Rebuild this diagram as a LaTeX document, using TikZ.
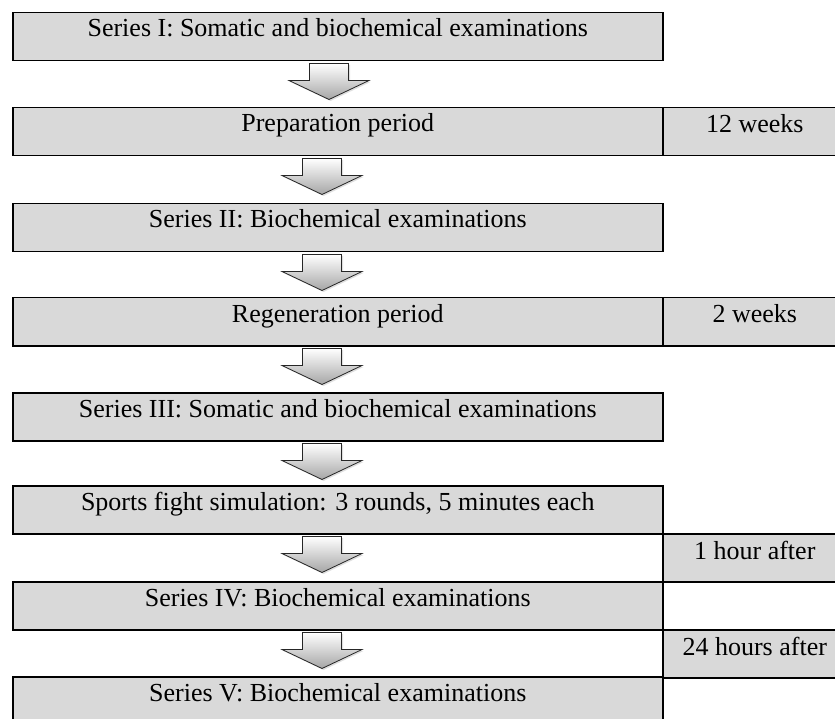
\documentclass[tikz,border=0pt]{standalone}
\usepackage{fontspec}
\setmainfont{Liberation Serif}
\usetikzlibrary{calc,shadows}
\definecolor{boxgray}{HTML}{D9D9D9}
\begin{document}
\begin{tikzpicture}[x=1pt,y=-1pt,
  box/.style={draw=black,fill=boxgray,line width=1.5pt,rectangle,inner sep=0pt,anchor=north west,minimum height=48pt},
  mainbox/.style={box,minimum width=650pt},
  sidebox/.style={box,minimum width=184pt},
  lbl/.style={font=\fontsize{26}{30}\selectfont,anchor=base,inner sep=0pt},
  blockarrow/.style={draw=black!85,line width=0.8pt,line join=miter,top color=white,bottom color=black!35,
    drop shadow={opacity=0.25,shadow xshift=1.5pt,shadow yshift=-1.5pt}},
  pics/downarr/.style={code={\path[blockarrow] (-19.5,2) -- (19.5,2) -- (19.5,19) -- (40,19) -- (0,38) -- (-40,19) -- (-19.5,19) -- cycle;}}
]
\useasboundingbox (0,0) rectangle (835,719);
\clip (0,0) rectangle (835,719);

% side column
\node[sidebox] (s2) at (662,107) {};
\node[sidebox] (s4) at (662,297) {};
\node[sidebox] (s6) at (662,533) {};
\node[sidebox] (s7) at (662,629) {};

% main column
\node[mainbox] (b1) at (12,12) {};
\node[mainbox] (b2) at (12,107) {};
\node[mainbox] (b3) at (12,203) {};
\node[mainbox] (b4) at (12,297) {};
\node[mainbox] (b5) at (12,392) {};
\node[mainbox] (b6) at (12,485) {};
\node[mainbox] (b7) at (12,581) {};
\node[mainbox] (b8) at (12,676) {};

% labels
\node[lbl] (t1) at ($(b1.north)+(0,25)$) {Series I: Somatic and biochemical examinations};
\node[lbl] (t2) at ($(b2.north)+(0,25)$) {Preparation period};
\node[lbl] (t3) at ($(b3.north)+(0,25)$) {Series II: Biochemical examinations};
\node[lbl] (t4) at ($(b4.north)+(0,25)$) {Regeneration period};
\node[lbl] (t5) at ($(b5.north)+(0,25)$) {Series III: Somatic and biochemical examinations};
\node[lbl] (t6) at ($(b6.north)+(0,25)$) {Sports fight simulation: 3 rounds, 5 minutes each};
\node[lbl] (t7) at ($(b7.north)+(0,25)$) {Series IV: Biochemical examinations};
\node[lbl] (t8) at ($(b8.north)+(0,25)$) {Series V: Biochemical examinations};

\node[lbl] (u2) at ($(s2.north)+(0,26)$) {12 weeks};
\node[lbl] (u4) at ($(s4.north)+(0,26)$) {2 weeks};
\node[lbl] (u6) at ($(s6.north)+(0,26)$) {1 hour after};
\node[lbl] (u7) at ($(s7.north)+(0,26)$) {24 hours after};

% block arrows
\pic at ($(b1.south west)+(317,0)$) {downarr};
\pic at ($(b2.south west)+(310,0)$) {downarr};
\pic at ($(b3.south west)+(310,0)$) {downarr};
\pic at ($(b4.south west)+(310,0)$) {downarr};
\pic at ($(b5.south west)+(310,0)$) {downarr};
\pic at ($(b6.south west)+(310,0)$) {downarr};
\pic at ($(b7.south west)+(310,0)$) {downarr};
\end{tikzpicture}
\end{document}
